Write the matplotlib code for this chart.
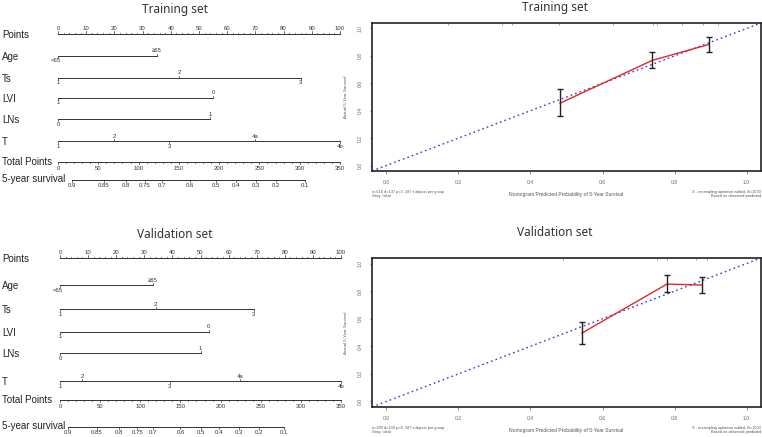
import matplotlib.pyplot as plt
import numpy as np

W, H = 762, 437

# ---- nomogram data (points scale 0-100) ----
var_names = ["Age", "Ts", "LVI", "LNs", "T"]
var_levels = [["<65", "\u226565"], ["1", "2", "3"], ["1", "0"], ["0", "1"],
              ["1", "2", "3", "4a", "4b"]]
train_var_points = [[0, 35], [0, 43, 86], [0, 55], [0, 54], [0, 20, 39.5, 70, 100]]
valid_var_points = [[0, 33], [0, 34, 69], [0, 53], [0, 50], [0, 8, 39, 64, 100]]

surv_labels = ["0.9", "0.85", "0.8", "0.75", "0.7", "0.6", "0.5", "0.4", "0.3", "0.2", "0.1"]
# positions on the total points scale (0-350)
train_surv_total = [17, 57, 84, 108, 129, 164, 196, 221, 246, 271, 306]
valid_surv_total = [10, 46, 74, 96, 116, 150, 175, 198, 223, 248, 279]

# ---- calibration data ----
train_pred = [0.482, 0.738, 0.896]
train_obs = [0.455, 0.767, 0.884]
train_lo = [0.36, 0.709, 0.825]
train_hi = [0.556, 0.825, 0.935]
train_rug = [0.17, 0.32, 0.35, 0.48, 0.63, 0.74, 0.75, 0.82, 0.88, 0.92]

valid_pred = [0.543, 0.779, 0.876]
valid_obs = [0.496, 0.851, 0.844]
valid_lo = [0.417, 0.793, 0.786]
valid_hi = [0.576, 0.917, 0.902]
valid_rug = [0.49, 0.75, 0.78, 0.86, 0.89]

train_note = "n=516 d=137 p=3, 187 subjects per group\nGray: ideal"
valid_note = "n=389 d=134 p=4, 187 subjects per group\nGray: ideal"
right_note = "X - resampling optimism added, B=1000\nBased on observed-predicted"

plt.rcParams['font.family'] = ['Liberation Sans', 'DejaVu Sans']
fig = plt.figure(figsize=(W / 100, H / 100), dpi=100)


def px_axes(x0, y0, x1, y1):
    return fig.add_axes([x0 / W, 1 - y1 / H, (x1 - x0) / W, (y1 - y0) / H])


def draw_nomogram(ax, title, title_y, p0, p100, rows, var_points, surv_total):
    s = (p100 - p0) / 100.0
    ax.set_xlim((0 - p0) / s, (360 - p0) / s)
    ax.axis('off')
    lc = '#333333'
    tk = 4.3
    up = -1  # y is pixel-like (inverted axis)

    ax.text((175 - p0) / s, title_y, title, ha='center', va='center',
            fontsize=8.5, family=['Noto Sans', 'DejaVu Sans'], color='#333333')

    # Points axis
    y = rows[0]
    ax.plot([0, 100], [y, y], color=lc, lw=0.7)
    for v in np.arange(0, 101, 2):
        ln = 2.6 if v % 10 == 0 else 1.3
        ax.plot([v, v], [y, y + up * ln], color=lc, lw=0.5)
    for v in range(0, 101, 10):
        ax.text(v, y - 5, str(v), ha='center', va='center', fontsize=tk, color=lc)
    ax.text((2 - p0) / s, y + 1.5, "Points", ha='left', va='center', fontsize=7, color='#222')

    # variables
    for i, (name, levels, pts) in enumerate(zip(var_names, var_levels, var_points)):
        y = rows[i + 1]
        ax.plot([pts[0], max(pts)], [y, y], color=lc, lw=0.7)
        for j, (lab, v) in enumerate(zip(levels, pts)):
            above = (j % 2 == 1)
            d = up if above else 1
            ax.plot([v, v], [y, y + d * 2.2], color=lc, lw=0.5)
            dx = -0.8 if (name == "Age" and j == 0) else 0
            ax.text(v + dx, y + d * 5, lab, ha='center', va='center', fontsize=tk, color=lc)
        ax.text((2 - p0) / s, y + 1, name, ha='left', va='center', fontsize=7, color='#222')

    # Total points axis
    y = rows[6]
    f = 100 / 350.0
    ax.plot([0, 100], [y, y], color=lc, lw=0.7)
    for v in range(0, 351, 10):
        ln = 2.4 if v % 50 == 0 else 1.3
        ax.plot([v * f, v * f], [y, y + ln], color=lc, lw=0.5)
    for v in range(0, 351, 50):
        ax.text(v * f, y + 7, str(v), ha='center', va='center', fontsize=tk, color=lc)
    ax.text((2 - p0) / s, y, "Total Points", ha='left', va='center', fontsize=7, color='#222')

    # survival axis
    y = rows[7]
    xs = [t * f for t in surv_total]
    ax.plot([xs[0], xs[-1]], [y, y], color=lc, lw=0.7)
    for x, lab in zip(xs, surv_labels):
        ax.plot([x, x], [y, y + 2.2], color=lc, lw=0.5)
        ax.text(x, y + 6, lab, ha='center', va='center', fontsize=tk, color=lc)
    ax.text((2 - p0) / s, y - 1, "5-year survival", ha='left', va='center', fontsize=7, color='#222')


def draw_calib(ax, title, title_y, pred, obs, lo, hi, rug, note):
    ax.set_xlim(-0.04, 1.04)
    ax.set_ylim(-0.04, 1.04)
    ax.axline((0, 0), (1, 1), color='#3a3acc', lw=1.0, ls=(0, (1.2, 2.2)))
    ax.plot(pred, obs, color='#e02828', lw=1.0)
    yerr = [np.array(obs) - np.array(lo), np.array(hi) - np.array(obs)]
    ax.errorbar(pred, obs, yerr=yerr, fmt='none', ecolor='#222222', elinewidth=1.0,
                capsize=2.2, capthick=1.0)
    ax.vlines(rug, 1.025, 1.04, color='#777777', lw=0.5)
    ticks = np.arange(0, 1.01, 0.2)
    ax.set_xticks(ticks)
    ax.set_yticks(ticks)
    ax.set_xticklabels([f"{t:.1f}" for t in ticks])
    ax.set_yticklabels([f"{t:.1f}" for t in ticks], rotation=90, va='center')
    ax.tick_params(labelsize=3.6, colors='#666666', length=1.8, width=0.5, pad=5)
    for sp in ax.spines.values():
        sp.set_linewidth(1.2)
        sp.set_color('#222222')
    ax.set_xlabel("Nomogram Predicted Probability of 5-Year Survival", fontsize=3.6,
                  color='#555555')
    ax.xaxis.set_label_coords(0.5, -0.14)
    ax.set_ylabel("Actual 5-Year Survival", fontsize=3.2, color='#555555')
    ax.yaxis.set_label_coords(-0.062, 0.5)
    ax.text(0.0, -0.13, note, transform=ax.transAxes, ha='left', va='top',
            fontsize=2.8, color='#555555', linespacing=1.0)
    ax.text(1.0, -0.13, right_note, transform=ax.transAxes, ha='right', va='top',
            fontsize=2.8, color='#555555', linespacing=1.0, multialignment='right')
    fig.text(555 / W, 1 - title_y / H, title, ha='center', va='center', fontsize=8.5,
             family=['Noto Sans', 'DejaVu Sans'], color='#333333')


# top-left nomogram
ax1 = px_axes(0, 0, 360, 218)
ax1.set_ylim(218, 0)
draw_nomogram(ax1, "Training set", 9, 58, 340,
              [34, 56, 78, 98, 119, 141, 162, 180], train_var_points, train_surv_total)

# bottom-left nomogram (y in absolute px)
ax2 = px_axes(0, 218, 360, 437)
ax2.set_ylim(437, 218)
draw_nomogram(ax2, "Validation set", 235, 60, 341,
              [258, 285, 309, 332, 353, 381, 400, 427], valid_var_points, valid_surv_total)

# calibration panels
ax3 = px_axes(372, 23, 761, 171)
draw_calib(ax3, "Training set", 7, train_pred, train_obs, train_lo, train_hi, train_rug,
           train_note)
ax4 = px_axes(372, 258, 761, 407)
draw_calib(ax4, "Validation set", 233, valid_pred, valid_obs, valid_lo, valid_hi, valid_rug,
           valid_note)

fig.savefig("out.png", dpi=100)
